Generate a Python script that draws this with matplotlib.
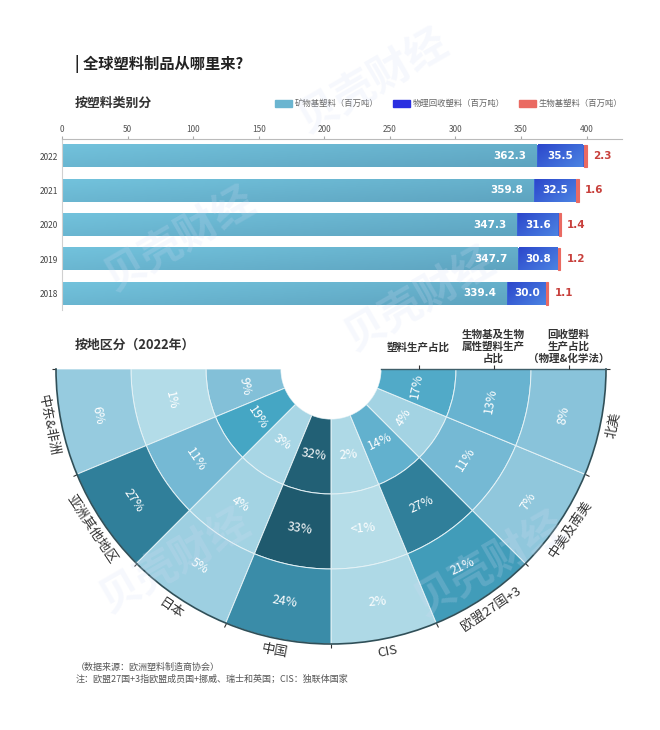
import numpy as np
import matplotlib
matplotlib.use("Agg")
import matplotlib.pyplot as plt
from matplotlib.colors import LinearSegmentedColormap
from matplotlib.markers import TICKUP
from matplotlib.transforms import ScaledTranslation

plt.rcParams['font.family'] = ['Noto Sans CJK SC', 'DejaVu Sans']

W, H = 660, 730

# top chart
years = ["2022", "2021", "2020", "2019", "2018"]
mineral = [362.3, 359.8, 347.3, 347.7, 339.4]
recycled = [35.5, 32.5, 31.6, 30.8, 30.0]
biobased = [2.3, 1.6, 1.4, 1.2, 1.1]
x_ticks = [0, 50, 100, 150, 200, 250, 300, 350, 400]
legend_names = ["矿物基塑料（百万吨）", "物理回收塑料（百万吨）", "生物基塑料（百万吨）"]

# bottom chart, going round from the bottom to the right, then the left side
regions = ["CIS", "欧盟27国+3", "中美及南美", "北美", "中东&非洲", "亚洲其他地区", "日本", "中国"]
region_rot = [11, 34, 56, 79, -79, -56, -34, -11]
value_rot = [5, 25, 58, 80, -78, -56, -33, -9]
prod_share = [2, 14, 4, 17, 9, 19, 3, 32]
bio_share = [0.5, 27, 11, 13, 1, 11, 4, 33]
recycle_share = [2, 21, 7, 8, 6, 27, 5, 24]
bio_labels = ["<1%", "27%", "11%", "13%", "1%", "11%", "4%", "33%"]
ring_names = ["塑料生产占比\n ", "生物基及生物\n属性塑料生产\n占比", "回收塑料\n生产占比\n（物理&化学法）"]


def px_axes(left, top, right, bottom):
    return [left / W, 1 - bottom / H, (right - left) / W, (bottom - top) / H]


fig = plt.figure(figsize=(W / 100, H / 100), dpi=100, facecolor="white")

# watermark on top of everything, very faint
for wx, wy in [(373, 82), (180, 240), (420, 300), (175, 562), (490, 565)]:
    fig.text(wx / W, 1 - wy / H, "贝壳财经", fontsize=30, fontweight="bold", color="#d5def5",
             rotation=30, ha="center", va="center", alpha=0.2, zorder=10)

fig.text(75 / W, 1 - 64 / H, "| 全球塑料制品从哪里来?", fontsize=11, fontweight="bold", color="#222222", va="center")
fig.text(75 / W, 1 - 103 / H, "按塑料类别分", fontsize=9.3, fontweight="bold", color="#333333", va="center")
fig.text(75 / W, 1 - 345 / H, "按地区分（2022年）", fontsize=9.3, fontweight="bold", color="#333333", va="center")
fig.text(76 / W, 1 - 667 / H, "（数据来源：欧洲塑料制造商协会）", fontsize=6.5, color="#555555", va="center")
fig.text(76 / W, 1 - 679 / H, "注：欧盟27国+3指欧盟成员国+挪威、瑞士和英国；CIS：独联体国家", fontsize=6.5, color="#555555", va="center")

ax = fig.add_axes(px_axes(62, 139, 622, 310.5))
ax.patch.set_alpha(0)
y = np.arange(len(years))
left2 = np.array(mineral) + np.array(recycled)
h = 0.66
b1 = ax.barh(y, mineral, height=h, color="#6bb5d0", zorder=2)
b2 = ax.barh(y, recycled, left=mineral, height=h, color="#3a62d8", zorder=2)
b3 = ax.barh(y, biobased, left=left2, height=h, color="#ea6a62", edgecolor="#ea6a62", linewidth=0.8, zorder=2)


# soft gradient on the two big segments, like the original
def shade(bars, cmap, gap):
    for b in bars:
        x0, x1 = b.get_x() + gap, b.get_x() + b.get_width() - gap
        y0, y1 = b.get_y(), b.get_y() + b.get_height()
        g = np.linspace(0, 1, 40).reshape(1, -1) * 0.6 + np.linspace(0, 1, 20).reshape(-1, 1) * 0.4
        ax.imshow(g, extent=[x0, x1, y1, y0], aspect="auto", cmap=cmap, zorder=2.5, vmin=0, vmax=1)


shade(b1, LinearSegmentedColormap.from_list("m", ["#72c2dc", "#5ea4c0"]), 0.3)
shade(b2, LinearSegmentedColormap.from_list("r", ["#2c48cc", "#4b83e2"]), 0.7)
ax.set_xlim(0, 427)
ax.set_ylim(4.5, -0.5)

for i in range(len(years)):
    ax.text(mineral[i] - 8, i, f"{mineral[i]}", color="white", fontsize=7.5, fontweight="bold", family="DejaVu Sans", ha="right", va="center", zorder=5)
    ax.text(mineral[i] + recycled[i] / 2, i, f"{recycled[i]:.1f}", color="white", fontsize=7.5, fontweight="bold", family="DejaVu Sans", ha="center", va="center", zorder=5)
    ax.text(left2[i] + biobased[i] + 5, i, f"{biobased[i]}", color="#c8403c", fontsize=7.5, fontweight="bold", family="DejaVu Sans", ha="left", va="center", zorder=5)

ax.xaxis.tick_top()
ax.set_xticks(x_ticks)
ax.tick_params(axis="x", labelsize=6, colors="#555555", length=2, pad=1.5, color="#aaaaaa")
ax.set_yticks(y, years)
ax.tick_params(axis="y", labelsize=6, colors="#444444", length=0, pad=3)
for s in ["right", "bottom"]:
    ax.spines[s].set_visible(False)
ax.spines["top"].set_color("#bbbbbb")
ax.spines["left"].set_color("#d0d0d0")

# legend drawn by hand to sit where the original has it
for nm, col, bx in zip(legend_names, ["#6bb5d0", "#2a2fe0", "#ea6a62"], [275, 393, 519]):
    fig.add_artist(plt.Rectangle((bx / W, 1 - 107 / H), 17 / W, 7 / H, transform=fig.transFigure, color=col))
    fig.text((bx + 20) / W, 1 - 103.5 / H, nm, fontsize=6, color="#666666", va="center")

# polar part
share_cmap = LinearSegmentedColormap.from_list(
    "share",
    [(0, "#b8dee9"), (4 / 33, "#a3d3e3"), (8 / 33, "#89c3da"), (13 / 33, "#68b3d0"),
     (19 / 33, "#45a6c4"), (24 / 33, "#3a8ca8"), (27 / 33, "#307f9a"), (1, "#1f5a6e")])
value_labels = [[f"{v}%" for v in prod_share], bio_labels, [f"{v}%" for v in recycle_share]]
rings = [prod_share, bio_share, recycle_share]
r_edges = [50, 125, 200, 275]
r_mids = [87.5, 162.5, 237.5]
sector = np.deg2rad(22.5)
# sector centres: right side goes 0..90, left side -90..0
thetas = np.deg2rad(np.array([11.25, 33.75, 56.25, 78.75, -78.75, -56.25, -33.75, -11.25]))

# the half disc is fitted inside a square box, centred, so the box reaches below the figure
pax = fig.add_axes(px_axes(56, 231.5, 606, 781.5), projection="polar")
pax.patch.set_alpha(0)
pax.set_theta_zero_location("S")
pax.set_thetamin(-90)
pax.set_thetamax(90)
pax.set_rlim(50, 275)
pax.set_rorigin(0)
for k, vals in enumerate(rings):
    pax.bar(thetas, [75] * 8, width=sector, bottom=r_edges[k], color=share_cmap(np.array(vals) / 33),
            edgecolor="#e4f2f6", linewidth=0.7)
    for t, lab, rot in zip(thetas, value_labels[k], value_rot):
        pax.text(t, r_edges[k] + 37.5, lab, color="white", fontsize=9, ha="center", va="center", rotation=rot)

pax.set_xticks(np.deg2rad(np.arange(-90, 91, 22.5)), [""] * 9)
pax.set_yticks([])
pax.grid(False)
# polar axes switch their ticks off by default; top is the outer arc here
pax.tick_params(axis="x", bottom=False, top=True, length=3, width=0.8, color="#333333", direction="out")
# radial ticks would not show up on the end edge, so markers do that job
pax.plot([np.pi / 2] * 3, r_mids, linestyle="none", marker=TICKUP, markersize=3, markeredgewidth=0.8,
         color="#333333", clip_on=False, zorder=5)
pax.set_rlim(50, 275)
pax.spines["polar"].set_color("#2f4f58")
pax.spines["polar"].set_linewidth(1.2)
# draw() turns these back on, so hide them by colour
pax.spines["inner"].set_edgecolor("none")
pax.spines["start"].set_edgecolor("none")
pax.spines["end"].set_color("#3f5f6a")
pax.spines["end"].set_linewidth(1.0)

for t, name, rot in zip(thetas, regions, region_rot):
    pax.text(t, 288, name, fontsize=9.5, color="#333333", ha="center", va="center", rotation=rot)

lift = pax.transData + ScaledTranslation(0, 5 / 100, fig.dpi_scale_trans)
for r, name in zip(r_mids, ring_names):
    pax.text(np.pi / 2, r, name, fontsize=7.6, fontweight="bold", color="#333333", ha="center", va="bottom",
             linespacing=1.2, transform=lift)

fig.savefig("out.png", dpi=100)
